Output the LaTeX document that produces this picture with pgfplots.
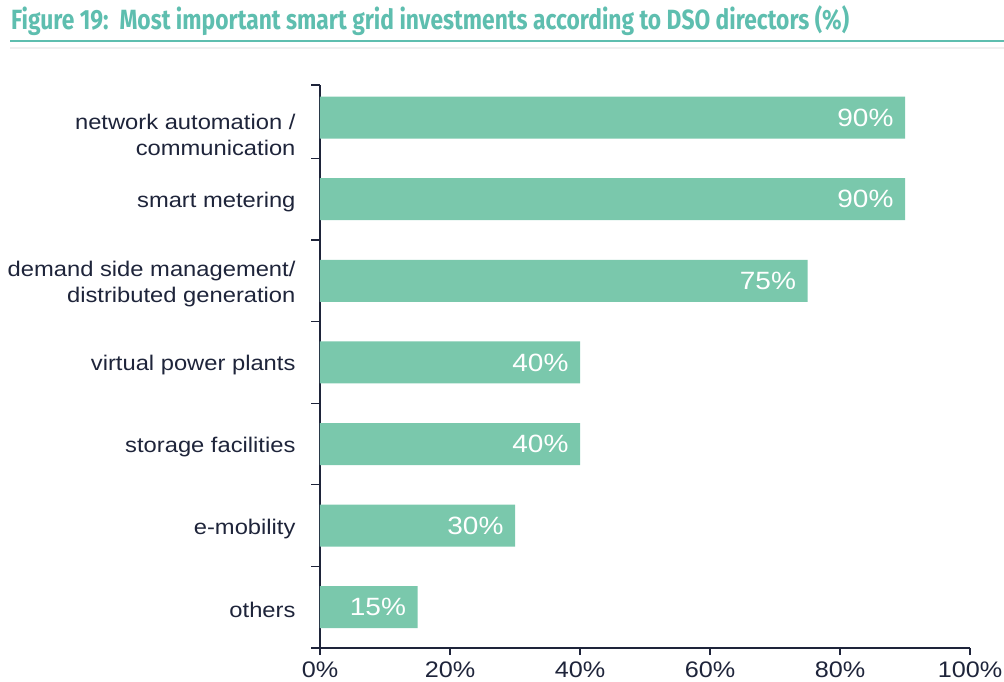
\documentclass[border=0pt]{standalone}
\usepackage{fontspec}
\setmainfont{Liberation Sans}[FakeStretch=1.12]
\newfontfamily\titlefont{Fira Sans}[FakeStretch=0.82]
\usepackage{pgfplots}
\pgfplotsset{compat=1.18}
\definecolor{barcol}{RGB}{122,200,172}
\definecolor{titleteal}{RGB}{94,190,175}
\definecolor{ink}{RGB}{30,36,58}
\begin{document}
\begin{tikzpicture}[x=1pt,y=1pt]
\useasboundingbox (0,0) rectangle (1004,-682);
\node[anchor=base west, inner sep=0, text=titleteal] at (11,-30)
  {\resizebox{838pt}{!}{\titlefont\bfseries\fontsize{24}{28}\selectfont Figure 19:\ \ Most important smart grid investments according to DSO directors (\%)}};
\draw[titleteal, line width=2pt] (10,-41) -- (1004,-41);
\draw[black!6, line width=1.5pt] (10,-48) -- (1004,-48);
\begin{axis}[
  at={(320pt,-648pt)}, anchor=south west,
  scale only axis, width=650pt, height=563pt,
  xmin=0, xmax=100, ymin=-0.5, ymax=6.4,
  xbar, bar width=42pt, bar shift=0pt,
  axis lines=left,
  axis line style={-, draw=ink, line width=1.1pt},
  tick align=outside,
  major tick length=7pt, minor tick length=9pt,
  tick style={draw=ink, line width=1.1pt},
  /pgf/number format/assume math mode=true,
  xtick={0,20,40,60,80,100},
  xticklabel={\pgfmathprintnumber{\tick}\%},
  xticklabel style={font=\fontsize{22.5}{26}\selectfont, text=ink, yshift=-3pt},
  ytick={0,1,2,3,4,5},
  yticklabels={others, e-mobility, storage facilities, virtual power plants,
    {demand side management/\\distributed generation}, smart metering},
  yticklabel style={font=\fontsize{21.2}{26}\selectfont, text=ink, align=right, xshift=-14pt, yshift=-3pt},
  extra y ticks={6},
  extra y tick labels={{network automation /\\communication}},
  extra y tick style={major y tick style={draw=none}, yticklabel style={yshift=-14pt}},
  major y tick style={draw=none},
  minor ytick={-0.5,0.5,1.5,2.5,3.5,4.5,5.5,6.4},
  point meta=x,
  nodes near coords={\pgfmathprintnumber{\pgfplotspointmeta}\%},
  every node near coord/.append style={anchor=east, xshift=-8pt, text=white, font=\fontsize{25}{28}\selectfont},
]
\addplot[fill=barcol, draw=none] coordinates {
  (15,0) (30,1) (40,2) (40,3) (75,4) (90,5) (90,6)
};
\end{axis}
\end{tikzpicture}
\end{document}
